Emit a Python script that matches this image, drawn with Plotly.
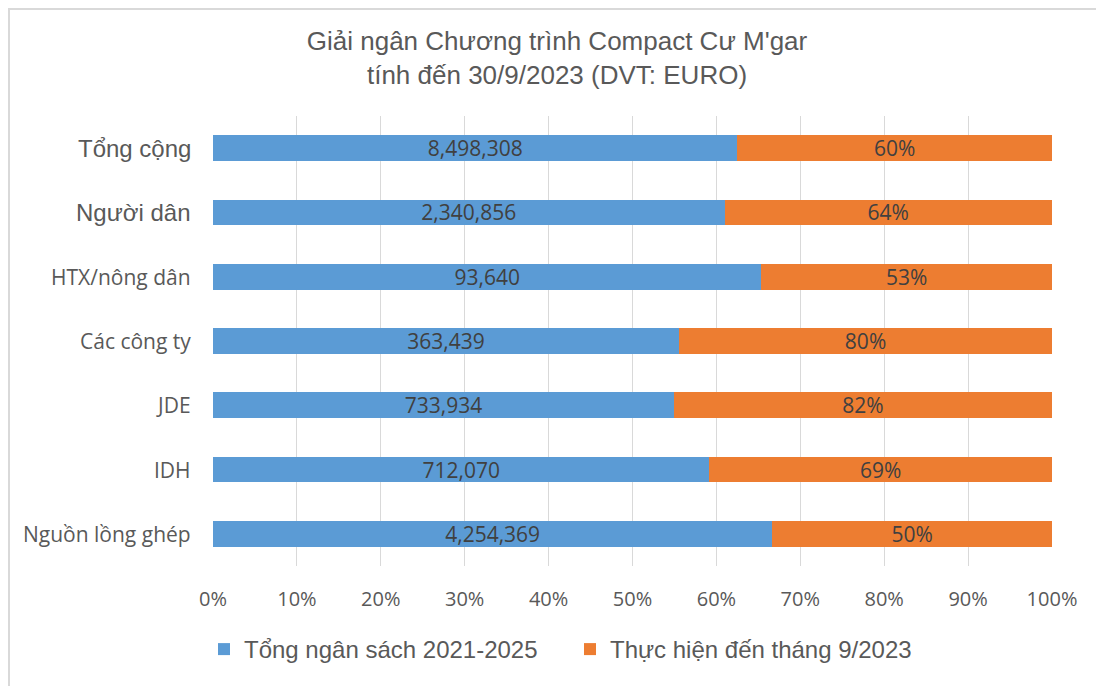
import plotly.graph_objects as go

categories = ["Tổng cộng", "Người dân", "HTX/nông dân", "Các công ty", "JDE", "IDH", "Nguồn lồng ghép"]
budget_total = [8498308, 2340856, 93640, 363439, 733934, 712070, 4254369]
implemented_pct = [60, 64, 53, 80, 82, 69, 50]
implemented = [b * p / 100 for b, p in zip(budget_total, implemented_pct)]

series_names = ["Tổng ngân sách 2021-2025", "Thực hiện đến tháng 9/2023"]
x_ticks = [0, 0.1, 0.2, 0.3, 0.4, 0.5, 0.6, 0.7, 0.8, 0.9, 1.0]

BLUE = "#5B9BD5"
ORANGE = "#ED7D31"
GREY = "#595959"
LABEL_FONT = "Open Sans, sans-serif"
ARIAL = "Liberation Sans, Arial, sans-serif"

fig = go.Figure()
fig.add_trace(go.Bar(
    y=categories, x=budget_total, orientation="h", name=series_names[0],
    marker=dict(color=BLUE, line=dict(width=0)),
    text=[f"{v:,}" for v in budget_total], texttemplate="%{text}",
    textposition="inside", insidetextanchor="middle", textangle=0,
    textfont=dict(family=LABEL_FONT, size=21, color="#404040"),
    hoverinfo="skip",
))
fig.add_trace(go.Bar(
    y=categories, x=implemented, orientation="h", name=series_names[1],
    marker=dict(color=ORANGE, line=dict(width=0)),
    text=[f"{p}%" for p in implemented_pct], texttemplate="%{text}",
    textposition="inside", insidetextanchor="middle", textangle=0,
    textfont=dict(family=LABEL_FONT, size=21, color="#404040"),
    hoverinfo="skip",
))

fig.update_layout(
    width=1104, height=686,
    barmode="stack", barnorm="fraction", bargap=0.6,
    uniformtext=dict(minsize=21, mode="show"),
    margin=dict(l=205, r=60, t=108, b=128),
    paper_bgcolor="white", plot_bgcolor="white",
    title=dict(
        text="Giải ngân Chương trình Compact Cư M'gar<br>tính đến 30/9/2023 (DVT: EURO)",
        x=549 / 1104, xanchor="center", xref="container",
        y=1 - 42 / 686, yanchor="top", yref="container",
        font=dict(family=ARIAL, size=26, color=GREY),
    ),
    xaxis=dict(
        range=[0, 1], tickvals=x_ticks, tickformat=".0%",
        showgrid=True, gridcolor="#D9D9D9", gridwidth=1, zeroline=False,
        showline=False, ticks="", ticklabelstandoff=19,
        tickfont=dict(family=LABEL_FONT, size=20, color=GREY),
        fixedrange=True,
    ),
    yaxis=dict(
        categoryorder="array", categoryarray=categories, autorange="reversed",
        showticklabels=False, showgrid=False, zeroline=False, showline=False,
    ),
    showlegend=True,
    legend=dict(
        orientation="h", xref="container", yref="container",
        x=196 / 1104, xanchor="left", y=1 - 619 / 686, yanchor="top",
        font=dict(family=ARIAL, size=24, color=GREY),
        entrywidth=321, entrywidthmode="pixels", traceorder="normal",
        itemclick=False, itemdoubleclick=False,
    ),
)

# category labels with per-label font styles
big = {"Tổng cộng", "Người dân"}
for c in categories:
    if c in big:
        f = dict(family=ARIAL, size=24, color=GREY)
    else:
        f = dict(family=LABEL_FONT, size=21, color=GREY)
    fig.add_annotation(
        x=0, xref="paper", y=c, yref="y", text=c, showarrow=False,
        xanchor="right", yanchor="middle", xshift=-20, font=f,
    )

# chart border (top and left edges visible)
fig.add_shape(type="line", xref="paper", yref="paper",
              x0=-204 / 839, x1=1.2, y0=1 + 107 / 450, y1=1 + 107 / 450,
              line=dict(color="#D9D9D9", width=2))
fig.add_shape(type="line", xref="paper", yref="paper",
              x0=-204 / 839, x1=-204 / 839, y0=1 + 108 / 450, y1=-1,
              line=dict(color="#D9D9D9", width=2))

fig.write_html("out.html")
